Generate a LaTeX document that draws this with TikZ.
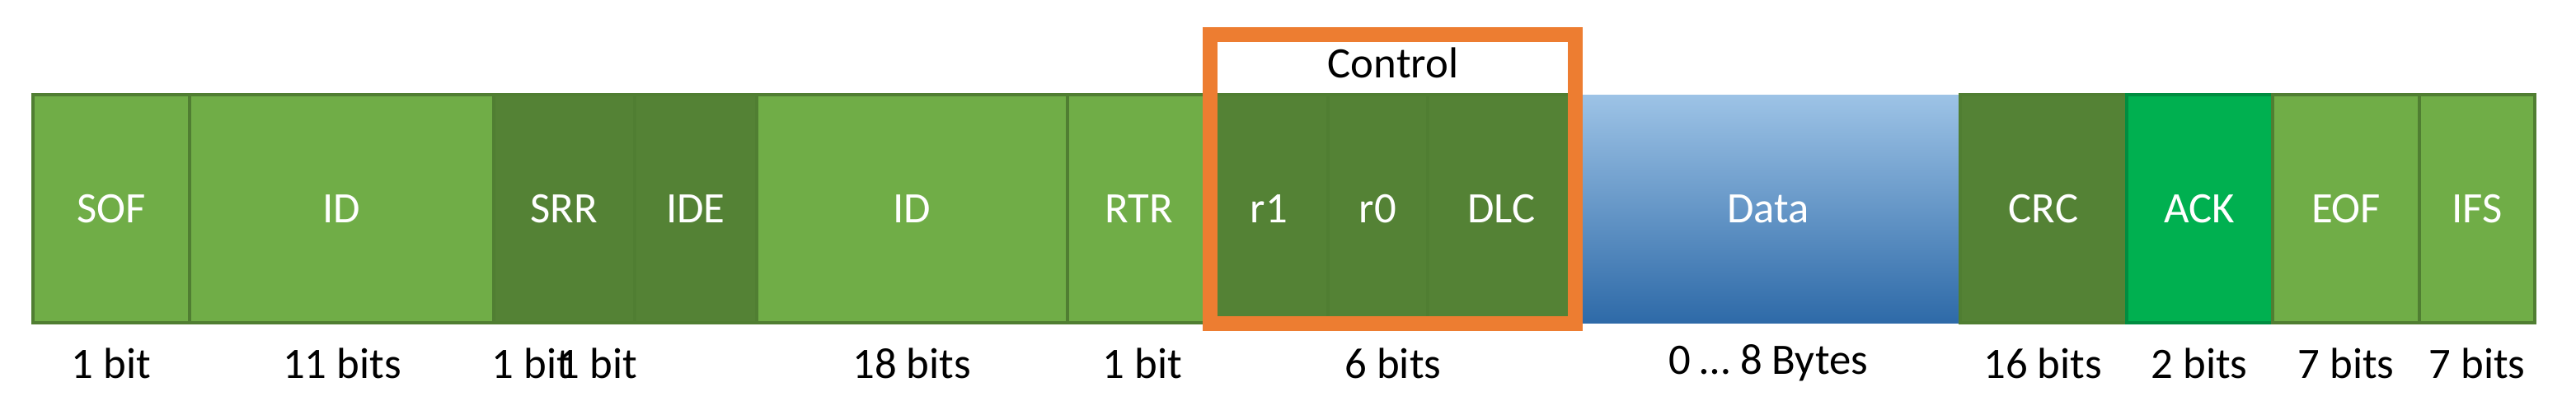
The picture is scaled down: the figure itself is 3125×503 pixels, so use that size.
\documentclass[tikz,border=0pt]{standalone}
\usepackage{fontspec}
\setmainfont{Carlito}
\definecolor{lg}{HTML}{70AD47}
\definecolor{dg}{HTML}{548235}
\definecolor{ackc}{HTML}{00B050}
\definecolor{edge}{HTML}{507E32}
\definecolor{dtop}{HTML}{9DC3E6}
\definecolor{dbot}{HTML}{2E6AA8}
\definecolor{org}{HTML}{ED7D31}
\begin{document}
\begin{tikzpicture}[x=0.01cm,y=-0.01cm,
  fld/.style={draw=edge,line width=1.2pt,text=white,font=\fontsize{15}{18}\selectfont},
  lbl/.style={font=\fontsize{15}{18}\selectfont,anchor=center}]
\useasboundingbox (0,0) rectangle (3125,503);
\def\fieldbox#1#2#3#4#5#6{% name, x0, x1, color, text, bits
  \path[fld,fill=#4] (#2,115) rectangle (#3,392);
  \node[text=white,font=\fontsize{15}{18}\selectfont] (#1) at ({(#2+#3)/2},254) {#5};
}
\fieldbox{sof}{40}{230}{lg}{SOF}{}
\fieldbox{ida}{230}{599}{lg}{ID}{}
\fieldbox{srr}{599}{770}{dg}{SRR}{}
\fieldbox{ide}{770}{918}{dg}{IDE}{}
\fieldbox{idb}{918}{1295}{lg}{ID}{}
\fieldbox{rtr}{1295}{1468}{lg}{RTR}{}
\fieldbox{ra}{1468}{1611}{dg}{r1}{}
\fieldbox{rb}{1611}{1732}{dg}{r0}{}
\fieldbox{dlc}{1732}{1911}{dg}{DLC}{}
\shade[top color=dtop,bottom color=dbot] (1911,115) rectangle (2378,392);
\node[text=white,font=\fontsize{15}{18}\selectfont] (data) at (2145,254) {Data};
\fieldbox{crc}{2378}{2580}{dg}{CRC}{}
\path[fld,fill=ackc,draw=ackc!80!black] (2580,115) rectangle (2757,392);
\node[text=white,font=\fontsize{15}{18}\selectfont] (ack) at (2668,254) {ACK};
\fieldbox{eof}{2757}{2935}{lg}{EOF}{}
\fieldbox{ifs}{2935}{3075}{lg}{IFS}{}
\draw[org,line width=5pt] (1468,42) rectangle (1911,393);
\node[lbl] (ctl) at (1690,76) {Control};
\foreach \x/\t in {135/1 bit,415/11 bits,645/1 bit,725/1 bit,1106/18 bits,1386/1 bit,1690/6 bits,2145/0 \dots{} 8 Bytes,2478/16 bits,2668/2 bits,2846/7 bits,3005/7 bits}
  \node[lbl] at (\x,441) {\t};
\end{tikzpicture}
\end{document}
